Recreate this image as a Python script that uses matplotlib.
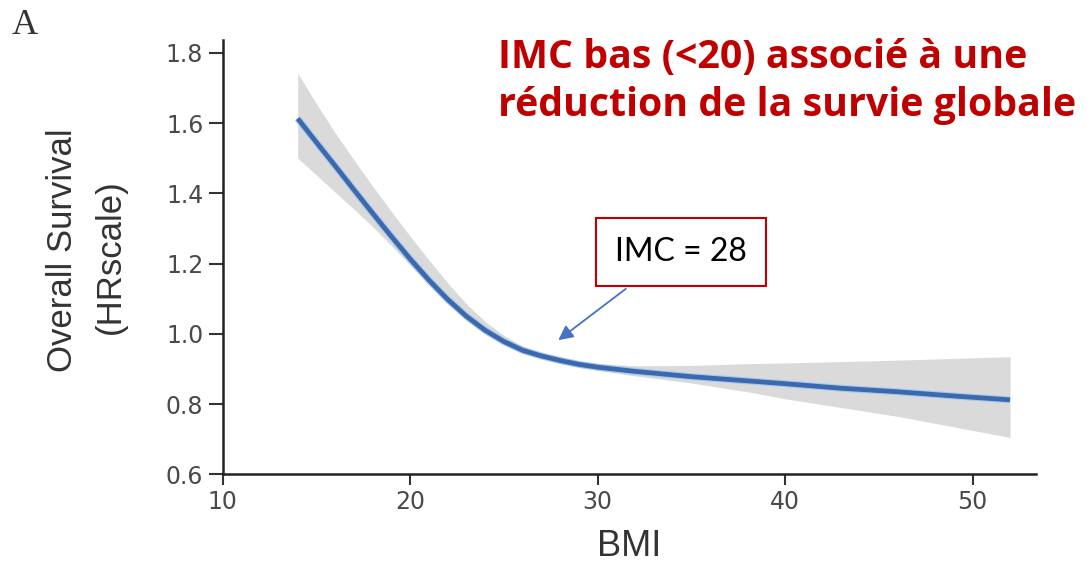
import matplotlib
matplotlib.use("Agg")
import matplotlib.pyplot as plt
from matplotlib import font_manager as fm

# BMI grid and estimated HR curve with confidence band
bmi = [14, 15, 16, 17, 18, 19, 20, 21, 22, 23, 24, 25, 26, 27, 28, 29, 30,
       32, 35, 38, 40, 43, 46, 49, 52]
hr = [1.613, 1.545, 1.478, 1.41, 1.343, 1.277, 1.213, 1.153, 1.098, 1.05,
      1.01, 0.978, 0.953, 0.937, 0.924, 0.913, 0.905, 0.893, 0.878, 0.866,
      0.858, 0.845, 0.835, 0.823, 0.812]
hr_upper = [1.742, 1.655, 1.572, 1.495, 1.42, 1.348, 1.278, 1.21, 1.145,
            1.085, 1.035, 0.995, 0.965, 0.945, 0.932, 0.922, 0.915, 0.909,
            0.91, 0.915, 0.917, 0.921, 0.925, 0.93, 0.935]
hr_lower = [1.50, 1.452, 1.403, 1.355, 1.305, 1.251, 1.195, 1.14, 1.087,
            1.04, 1.0, 0.969, 0.945, 0.929, 0.916, 0.905, 0.896, 0.88, 0.86,
            0.835, 0.815, 0.79, 0.765, 0.735, 0.705]

x_ticks = [10, 20, 30, 40, 50]
y_ticks = [0.6, 0.8, 1.0, 1.2, 1.4, 1.6, 1.8]

title_lines = ["IMC bas (<20) associé à une", "réduction de la survie globale"]
box_text = "IMC = 28"

# police étroite pour le label y si dispo
names = {f.name for f in fm.fontManager.ttflist}
if "Liberation Sans Narrow" in names:
    ylab_font, ylab_size = "Liberation Sans Narrow", 30
else:
    ylab_font, ylab_size = "Liberation Sans", 25

fig = plt.figure(figsize=(10.87, 5.66), dpi=100)
ax = fig.add_axes([0.2049, 0.162, 0.7481, 0.767])

# bande de confiance + courbe
ax.fill_between(bmi, hr_lower, hr_upper, color="#dadada", linewidth=0, zorder=1)
ax.plot(bmi, hr, color="#a9c6ea", linewidth=5.0, solid_capstyle="butt",
        solid_joinstyle="round", zorder=2)
ax.plot(bmi, hr, color="#3a69ad", linewidth=3.4, solid_capstyle="butt",
        solid_joinstyle="round", zorder=3)

ax.set_xlim(10, 53.38)
ax.set_ylim(0.6, 1.836)
ax.set_xticks(x_ticks)
ax.set_yticks(y_ticks)
ax.set_xticklabels([str(t) for t in x_ticks])
ax.set_yticklabels([f"{t:.1f}" for t in y_ticks])

for s in ["top", "right"]:
    ax.spines[s].set_visible(False)
for s in ["left", "bottom"]:
    ax.spines[s].set_linewidth(1.8)
    ax.spines[s].set_color("#222222")

ax.tick_params(axis="both", direction="out", width=1.5, color="#333333",
               labelsize=17, labelcolor="#4a4a4a")
ax.tick_params(axis="y", length=10, pad=4)
ax.tick_params(axis="x", length=8, pad=3)
for lab in ax.get_xticklabels() + ax.get_yticklabels():
    lab.set_family("DejaVu Sans")

ax.set_xlabel("BMI", fontsize=26, family="Liberation Sans", color="#333333",
              labelpad=11)

# label y sur deux lignes
fig.text(62 / 1087, 1 - 250 / 566, "Overall Survival", rotation=90,
         ha="center", va="center", fontsize=ylab_size, family=ylab_font,
         color="#333333")
fig.text(110 / 1087, 1 - 257 / 566, "(HRscale)", rotation=90,
         ha="center", va="center", fontsize=ylab_size, family=ylab_font,
         color="#333333")

# lettre du panneau
fig.text(12 / 1087, 1 - 34 / 566, "A", fontsize=26, family="Liberation Serif",
         color="#333333", ha="left", va="baseline")

# titre rouge
fig.text(498 / 1087, 1 - 68 / 566, title_lines[0], fontsize=28.3,
         family="Open Sans", weight="bold", color="#c00000", ha="left",
         va="baseline")
fig.text(498 / 1087, 1 - 116 / 566, title_lines[1], fontsize=28.3,
         family="Open Sans", weight="bold", color="#c00000", ha="left",
         va="baseline")

# encadré + flèche
ax.annotate("", xy=(27.9, 0.982), xytext=(31.5, 1.128),
            arrowprops=dict(arrowstyle="-|>", color="#4472c4", lw=1.3,
                            mutation_scale=22, shrinkA=0, shrinkB=0))
ax.text(34.43, 1.233, box_text, fontsize=23, family="Lato", color="black",
        ha="center", va="center",
        bbox=dict(boxstyle="square,pad=0.6", facecolor="white",
                  edgecolor="#c00000", linewidth=1.5))

fig.savefig("out.png", dpi=100)
